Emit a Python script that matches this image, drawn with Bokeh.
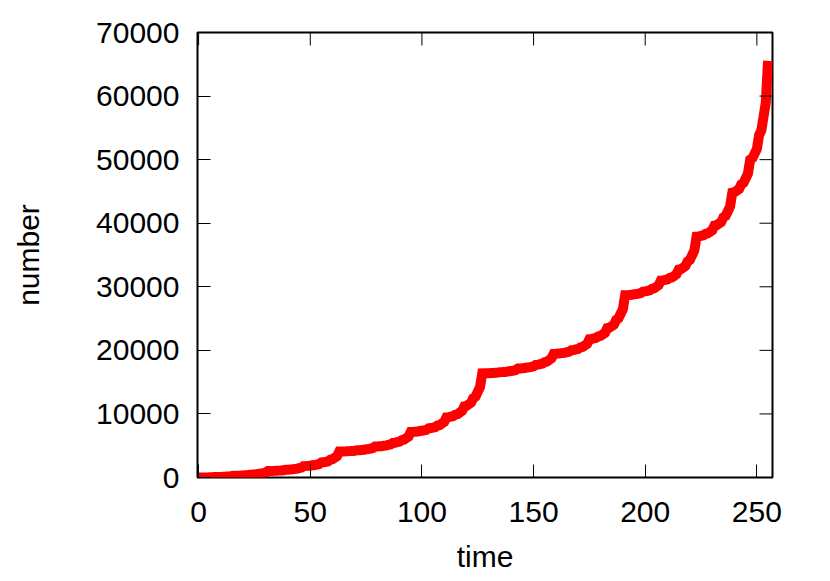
import math
from bokeh.plotting import figure
from bokeh.models import Range1d, FixedTicker
from bokeh.embed import file_html
from bokeh.resources import INLINE

# time steps
time = list(range(256))
# cumulative number
number = [
    1, 4, 7, 16, 19, 28, 37, 64,
    67, 76, 85, 112, 121, 148, 175, 256,
    259, 268, 277, 304, 313, 340, 367, 448,
    457, 484, 511, 592, 619, 700, 781, 1024,
    1027, 1036, 1045, 1072, 1081, 1108, 1135, 1216,
    1225, 1252, 1279, 1360, 1387, 1468, 1549, 1792,
    1801, 1828, 1855, 1936, 1963, 2044, 2125, 2368,
    2395, 2476, 2557, 2800, 2881, 3124, 3367, 4096,
    4099, 4108, 4117, 4144, 4153, 4180, 4207, 4288,
    4297, 4324, 4351, 4432, 4459, 4540, 4621, 4864,
    4873, 4900, 4927, 5008, 5035, 5116, 5197, 5440,
    5467, 5548, 5629, 5872, 5953, 6196, 6439, 7168,
    7177, 7204, 7231, 7312, 7339, 7420, 7501, 7744,
    7771, 7852, 7933, 8176, 8257, 8500, 8743, 9472,
    9499, 9580, 9661, 9904, 9985, 10228, 10471, 11200,
    11281, 11524, 11767, 12496, 12739, 13468, 14197, 16384,
    16387, 16396, 16405, 16432, 16441, 16468, 16495, 16576,
    16585, 16612, 16639, 16720, 16747, 16828, 16909, 17152,
    17161, 17188, 17215, 17296, 17323, 17404, 17485, 17728,
    17755, 17836, 17917, 18160, 18241, 18484, 18727, 19456,
    19465, 19492, 19519, 19600, 19627, 19708, 19789, 20032,
    20059, 20140, 20221, 20464, 20545, 20788, 21031, 21760,
    21787, 21868, 21949, 22192, 22273, 22516, 22759, 23488,
    23569, 23812, 24055, 24784, 25027, 25756, 26485, 28672,
    28681, 28708, 28735, 28816, 28843, 28924, 29005, 29248,
    29275, 29356, 29437, 29680, 29761, 30004, 30247, 30976,
    31003, 31084, 31165, 31408, 31489, 31732, 31975, 32704,
    32785, 33028, 33271, 34000, 34243, 34972, 35701, 37888,
    37915, 37996, 38077, 38320, 38401, 38644, 38887, 39616,
    39697, 39940, 40183, 40912, 41155, 41884, 42613, 44800,
    44881, 45124, 45367, 46096, 46339, 47068, 47797, 49984,
    50227, 50956, 51685, 53872, 54601, 56788, 58975, 65536,
]
x_ticks = [0, 50, 100, 150, 200, 250]
y_ticks = [0, 10000, 20000, 30000, 40000, 50000, 60000, 70000]

X_MIN, X_MAX = -0.5, 257
Y_MIN, Y_MAX = 0, 70000
FONT = "Liberation Sans"

p = figure(width=814, height=575, output_backend="svg", toolbar_location=None,
           x_range=Range1d(X_MIN, X_MAX), y_range=Range1d(Y_MIN, Y_MAX),
           min_border_left=197, min_border_right=42,
           min_border_top=32, min_border_bottom=98)
p.grid.visible = False
p.outline_line_color = "black"
p.outline_line_width = 2
p.background_fill_color = "white"
p.border_fill_color = "white"

p.line(time, number, line_color="#ff0000", line_width=10, line_join="miter")

# mirrored ticks on the top and right edges (markers clipped by the frame)
p.scatter([X_MAX] * len(y_ticks), y_ticks, marker="dash", size=26,
          line_color="black", line_width=1)
p.scatter(x_ticks, [Y_MAX] * len(x_ticks), marker="dash", size=26,
          angle=math.pi / 2, line_color="black", line_width=1)

def style(ax, ticks):
    ax.ticker = FixedTicker(ticks=ticks)
    ax.axis_line_color = None
    ax.major_tick_in = 13
    ax.major_tick_out = 0
    ax.major_tick_line_color = "black"
    ax.major_tick_line_width = 1
    ax.minor_tick_line_color = None
    ax.major_label_text_font = FONT
    ax.axis_label_text_font = FONT
    ax.axis_label_text_font_style = "normal"
    ax.axis_label_text_color = "black"
    ax.major_label_text_color = "black"
    ax.major_label_text_font_size = "30px"
    ax.axis_label_text_font_size = "30px"

xa = p.xaxis[0]
style(xa, x_ticks)
xa.axis_label = "time"
xa.major_label_standoff = 24
xa.axis_label_standoff = 15

ya = p.yaxis[0]
style(ya, y_ticks)
ya.axis_label = "number"
ya.major_label_standoff = 18
ya.axis_label_standoff = 48

open("out.html", "w").write(file_html(p, INLINE))
